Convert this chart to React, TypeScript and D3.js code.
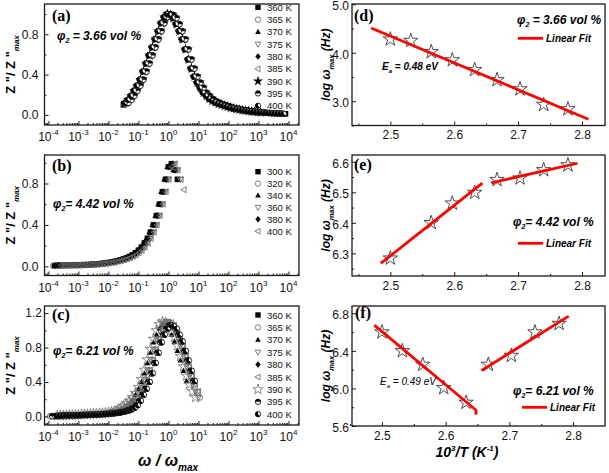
import React, { useEffect, useRef } from "react";
import * as d3 from "d3";

const W = 609;
const H = 473;

// ---- left panels: Z''/Z''max against log10(w/wmax), sampled every 0.1 decade ----
const tempsA = ["360 K", "365 K", "370 K", "375 K", "380 K", "385 K", "390 K", "395 K", "400 K"];
const symbolsA = ["square", "circle", "triUp", "triDown", "diamond", "triLeft", "starFill", "halfTop", "halfLeft"];
const aStart = -1.5;
const aZ = [0.10, 0.12, 0.15, 0.19, 0.24, 0.29, 0.35, 0.43, 0.51, 0.59, 0.67, 0.75, 0.83, 0.91, 0.97,
  1.00, 0.99, 0.96, 0.90, 0.83, 0.75, 0.65, 0.55, 0.46, 0.38, 0.32, 0.27, 0.22, 0.19, 0.16, 0.14,
  0.125, 0.11, 0.10, 0.09, 0.08, 0.07, 0.065, 0.058, 0.052, 0.047, 0.042, 0.038, 0.034, 0.031,
  0.028, 0.025, 0.022, 0.02, 0.018, 0.016, 0.015, 0.013, 0.012, 0.011];
const aShift = [0, 0.06, -0.05, 0.09, -0.08, 0.04, -0.03, 0.07, -0.06];
const aFrom = [-1.5, -1.4, -1.5, -1.4, -1.5, -1.5, -1.5, -1.4, -1.5];
const aTo = [3.9, 3.8, 3.6, 3.3, 3.5, 2.9, 3.1, 3.8, 3.9];

const tempsB = ["300 K", "320 K", "340 K", "360 K", "380 K", "400 K"];
const symbolsB = ["square", "circle", "triUp", "triDown", "diamond", "triLeft"];
const bStart = -3.9;
const bZ = [0.005, 0.008, 0.009, 0.01, 0.01, 0.011, 0.011, 0.012, 0.012, 0.013, 0.014, 0.015, 0.016,
  0.018, 0.02, 0.022, 0.025, 0.028, 0.032, 0.036, 0.041, 0.047, 0.054, 0.062, 0.071, 0.082, 0.095,
  0.11, 0.13, 0.155, 0.185, 0.225, 0.27, 0.33, 0.40, 0.49, 0.60, 0.72, 0.84,
  0.96, 0.99, 0.93, 0.84, 0.74, 0.64];
const bShift = [0, 0.06, -0.04, 0.1, 0.02, 0.12];
const bFrom = [-3.8, -3.9, -3.8, -3.7, -3.8, -3.6];
const bTo = [0.3, 0.3, 0.2, 0.45, 0.3, 0.55];

const tempsC = ["360 K", "365 K", "370 K", "375 K", "380 K", "385 K", "390 K", "395 K", "400 K"];
const symbolsC = ["square", "circle", "triUp", "triDown", "diamond", "triLeft", "starOpen", "halfTop", "halfLeft"];
const cStart = -4.0;
const cFilled = [0.0, 0.002, 0.004, 0.006, 0.008, 0.01, 0.011, 0.012, 0.013, 0.014, 0.015, 0.016, 0.017,
  0.018, 0.019, 0.02, 0.022, 0.024, 0.026, 0.028, 0.031, 0.034, 0.038, 0.043, 0.05, 0.058, 0.068,
  0.08, 0.1, 0.13, 0.18, 0.25, 0.32, 0.40, 0.50, 0.62, 0.74, 0.86, 0.95, 1.02,
  1.06, 1.05, 1.02, 0.95, 0.87, 0.76, 0.65, 0.53, 0.41];
const cOpen = [0.0, 0.003, 0.005, 0.007, 0.009, 0.011, 0.012, 0.013, 0.014, 0.015, 0.016, 0.018, 0.02,
  0.022, 0.024, 0.026, 0.028, 0.03, 0.033, 0.036, 0.04, 0.045, 0.05, 0.06, 0.075, 0.095, 0.12,
  0.15, 0.18, 0.22, 0.27, 0.34, 0.43, 0.54, 0.66, 0.78, 0.90, 1.00, 1.07, 1.10,
  1.09, 1.06, 1.00, 0.92, 0.82, 0.70, 0.58, 0.47, 0.37, 0.29, 0.22];
const cUsesOpen = [false, true, false, true, false, true, true, false, false];
const cShift = [0.05, 0.05, -0.2, 0.0, 0.0, 0.1, -0.1, 0.03, 0.08];
const cFrom = [-3.9, -4.0, -3.8, -3.9, -3.9, -3.8, -3.7, -3.9, -3.8];
const cTo = [0.9, 1.05, 0.6, 1.0, 0.8, 1.0, 0.9, 0.85, 0.9];

const decades = [-4, -3, -2, -1, 0, 1, 2, 3, 4];

// ---- right panels: log wmax against 1000/T ----
const dInvT = [2.5, 2.532, 2.564, 2.597, 2.632, 2.667, 2.703, 2.74, 2.778];
const dLogW = [4.28, 4.25, 4.02, 3.85, 3.65, 3.44, 3.25, 2.93, 2.84];
const dFitX = [2.47, 2.81];
const dFitY = [4.51, 2.63];

const eInvT = [2.5, 2.564, 2.597, 2.632, 2.667, 2.703, 2.74, 2.778];
const eLogW = [6.284, 6.40, 6.464, 6.499, 6.541, 6.546, 6.573, 6.589];
const eFit1X = [2.485, 2.644];
const eFit1Y = [6.267, 6.53];
const eFit2X = [2.658, 2.793];
const eFit2Y = [6.531, 6.595];

const fInvT = [2.5, 2.532, 2.564, 2.597, 2.632, 2.667, 2.703, 2.74, 2.778];
const fLogW = [6.60, 6.40, 6.255, 6.006, 5.85, 6.255, 6.35, 6.60, 6.69];
const fFit1X = [2.488, 2.6475, 2.6475];
const fFit1Y = [6.675, 5.77, 5.72];
const fFit2X = [2.656, 2.793];
const fFit2Y = [6.19, 6.77];

const SANS = "'Liberation Sans', Arial, sans-serif";
const SERIF = "'Liberation Serif', 'Times New Roman', serif";

type G = d3.Selection<SVGGElement, unknown, null, undefined>;

function marker(g: G, type: string, cx: number, cy: number, s: number) {
  const r = s / 2;
  const openStroke = "#6e6e6e";
  if (type === "square") {
    g.append("rect").attr("x", cx - r).attr("y", cy - r).attr("width", s).attr("height", s).attr("fill", "#000");
  } else if (type === "circle") {
    g.append("circle").attr("cx", cx).attr("cy", cy).attr("r", r).attr("fill", "none")
      .attr("stroke", openStroke).attr("stroke-width", 0.9);
  } else if (type === "triUp") {
    g.append("path").attr("d", `M${cx},${cy - r * 1.15}L${cx + r * 1.05},${cy + r * 0.75}L${cx - r * 1.05},${cy + r * 0.75}Z`)
      .attr("fill", "#000");
  } else if (type === "triDown") {
    g.append("path").attr("d", `M${cx},${cy + r * 1.15}L${cx + r * 1.05},${cy - r * 0.75}L${cx - r * 1.05},${cy - r * 0.75}Z`)
      .attr("fill", "none").attr("stroke", openStroke).attr("stroke-width", 0.9);
  } else if (type === "diamond") {
    g.append("path").attr("d", `M${cx},${cy - r * 1.2}L${cx + r},${cy}L${cx},${cy + r * 1.2}L${cx - r},${cy}Z`)
      .attr("fill", "#000");
  } else if (type === "triLeft") {
    g.append("path").attr("d", `M${cx - r * 1.15},${cy}L${cx + r * 0.75},${cy - r * 1.05}L${cx + r * 0.75},${cy + r * 1.05}Z`)
      .attr("fill", "none").attr("stroke", openStroke).attr("stroke-width", 0.9);
  } else if (type === "starFill" || type === "starOpen") {
    const p = g.append("path").attr("d", d3.symbol(d3.symbolStar, s * s * 1.1)()!)
      .attr("transform", `translate(${cx},${cy})`);
    if (type === "starFill") p.attr("fill", "#000");
    else p.attr("fill", "none").attr("stroke", openStroke).attr("stroke-width", 0.8);
  } else if (type === "halfTop") {
    g.append("circle").attr("cx", cx).attr("cy", cy).attr("r", r).attr("fill", "#fff").attr("stroke", "#000").attr("stroke-width", 0.8);
    g.append("path").attr("d", `M${cx - r},${cy}A${r},${r} 0 0 1 ${cx + r},${cy}Z`).attr("fill", "#000");
  } else if (type === "halfLeft") {
    g.append("circle").attr("cx", cx).attr("cy", cy).attr("r", r).attr("fill", "#fff").attr("stroke", "#000").attr("stroke-width", 0.8);
    g.append("path").attr("d", `M${cx},${cy - r}A${r},${r} 0 1 0 ${cx + r * 0.7},${cy + r * 0.7}L${cx},${cy}Z`).attr("fill", "#000");
  }
}

function frame(g: G, x0: number, x1: number, y0: number, y1: number) {
  g.append("rect").attr("x", x0).attr("y", y0).attr("width", x1 - x0).attr("height", y1 - y0)
    .attr("fill", "none").attr("stroke", "#1a1a1a").attr("stroke-width", 1.3);
}

function styleAxis(sel: G) {
  sel.select(".domain").remove();
  sel.selectAll("line").attr("stroke", "#1a1a1a").attr("stroke-width", 1);
  sel.selectAll("text").attr("font-family", SANS).attr("font-size", 12).attr("fill", "#111");
}

const App = () => {
  const ref = useRef<SVGSVGElement>(null);

  useEffect(() => {
    const svg = d3.select(ref.current);
    svg.selectAll("*").remove();
    const root = svg.append("g") as unknown as G;

    // ---------- left column ----------
    const xL = d3.scaleLog().domain([Math.pow(10, -4.13), Math.pow(10, 4.35)]).range([44.5, 299]);
    const minorL: number[] = [];
    decades.forEach((e) => d3.range(2, 10).forEach((m) => {
      const v = m * Math.pow(10, e);
      if (v > xL.domain()[0] && v < xL.domain()[1]) minorL.push(v);
    }));
    const preMinor = d3.range(8, 10).map((m) => m * 1e-5).filter((v) => v > xL.domain()[0]);

    const leftPanels = [
      {
        top: 4, bottom: 125, yDom: [-0.1, 1.1], yTicks: [0, 0.4, 0.8], yMinor: [0.2, 0.6, 1.0], pad: 6,
        label: "(a)", labelY: 21, phi: "3.66", phiSep: " = ", phiY: 40, phiX: 57,
        temps: tempsA, symbols: symbolsA, legY: 7.3, legStep: 12.3,
        series: tempsA.map((_, i) => ({ curve: aZ, start: aStart, shift: aShift[i], from: aFrom[i], to: aTo[i] })),
      },
      {
        top: 155, bottom: 275.5, yDom: [-0.088, 1.075], yTicks: [0, 0.4, 0.8], yMinor: [0.2, 0.6, 1.0], pad: 6,
        label: "(b)", labelY: 171, phi: "4.42", phiSep: "= ", phiY: 208, phiX: 53,
        temps: tempsB, symbols: symbolsB, legY: 171.7, legStep: 11.9,
        series: tempsB.map((_, i) => ({ curve: bZ, start: bStart, shift: bShift[i], from: bFrom[i], to: bTo[i] })),
      },
      {
        top: 306, bottom: 425, yDom: [-0.1, 1.283], yTicks: [0, 0.4, 0.8, 1.2], yMinor: [0.2, 0.6, 1.0], pad: 2.5,
        label: "(c)", labelY: 320, phi: "6.21", phiSep: "= ", phiY: 355, phiX: 53,
        temps: tempsC, symbols: symbolsC, legY: 315, legStep: 12.4,
        series: tempsC.map((_, i) => ({ curve: cUsesOpen[i] ? cOpen : cFilled, start: cStart, shift: cShift[i], from: cFrom[i], to: cTo[i] })),
      },
    ];

    leftPanels.forEach((p) => {
      const y = d3.scaleLinear().domain(p.yDom).range([p.bottom, p.top]);
      const g = root.append("g") as unknown as G;

      // data
      const dg = g.append("g") as unknown as G;
      p.series.forEach((s, i) => {
        s.curve.forEach((z, k) => {
          const lw = s.start + k * 0.1 + s.shift;
          if (lw < s.from - 1e-6 || lw > s.to + 1e-6) return;
          marker(dg, p.symbols[i], xL(Math.pow(10, lw)), y(z), 5.6);
        });
      });

      frame(g, 44.5, 299, p.top, p.bottom);

      g.append("g").attr("transform", `translate(0,${p.bottom})`)
        .call(d3.axisBottom(xL).tickValues(decades.map((e) => Math.pow(10, e))).tickSize(-4).tickFormat(() => ""))
        .call(styleAxis as any);
      g.append("g").attr("transform", `translate(0,${p.bottom})`)
        .call(d3.axisBottom(xL).tickValues([...preMinor, ...minorL]).tickSize(-2).tickFormat(() => ""))
        .call(styleAxis as any);
      decades.forEach((e) => {
        const t = g.append("text").attr("x", xL(Math.pow(10, e))).attr("y", p.bottom + 16)
          .attr("text-anchor", "middle").attr("font-family", SANS).attr("font-size", 12).attr("fill", "#111");
        t.append("tspan").text("10");
        t.append("tspan").attr("dy", -6).attr("font-size", 8).text(String(e));
      });

      g.append("g").attr("transform", "translate(44.5,0)")
        .call(d3.axisLeft(y).tickValues(p.yTicks).tickSize(-4).tickPadding(p.pad).tickFormat(d3.format(".1f")))
        .call(styleAxis as any);
      g.append("g").attr("transform", "translate(44.5,0)")
        .call(d3.axisLeft(y).tickValues(p.yMinor).tickSize(-2).tickFormat(() => ""))
        .call(styleAxis as any);

      g.append("text").attr("x", 52).attr("y", p.labelY).attr("font-family", SERIF).attr("font-weight", "bold")
        .attr("font-size", 16).text(p.label);

      const ph = g.append("text").attr("x", p.phiX).attr("y", p.phiY).attr("font-family", SANS)
        .attr("font-weight", "bold").attr("font-style", "italic").attr("font-size", 12);
      ph.append("tspan").text("\u03c6");
      ph.append("tspan").attr("dy", 3).attr("font-size", 7).text("2");
      ph.append("tspan").attr("dy", -3).text(`${p.phiSep}${p.phi} vol %`);

      p.temps.forEach((t, i) => {
        const ly = p.legY + i * p.legStep;
        marker(g, p.symbols[i], 258, ly, 5.4);
        g.append("text").attr("x", 267).attr("y", ly + 3.5).attr("font-family", SANS).attr("font-size", 9.5)
          .attr("fill", "#111").text(t);
      });

      const cy = (p.top + p.bottom) / 2;
      const yt = g.append("text").attr("transform", `translate(15,${cy}) rotate(-90)`).attr("text-anchor", "middle")
        .attr("font-family", SANS).attr("font-weight", "bold").attr("font-size", 13);
      yt.append("tspan").text("Z \"/ Z \"");
      yt.append("tspan").attr("dy", 4).attr("font-size", 8).attr("font-style", "italic").text("max");
    });

    const xt = root.append("text").attr("x", 168).attr("y", 466).attr("text-anchor", "middle")
      .attr("font-family", SANS).attr("font-weight", "bold").attr("font-style", "italic").attr("font-size", 16);
    xt.append("tspan").text("\u03c9 / \u03c9");
    xt.append("tspan").attr("dy", 5).attr("font-size", 10).text("max");

    // ---------- right column ----------
    const rightPanels = [
      {
        top: 4, bottom: 125.5, xDom: [2.44, 2.836], yDom: [2.5, 5.006], yTicks: [3.0, 4.0, 5.0], yMinor: [2.5, 3.5, 4.5],
        label: "(d)", labelY: 21, labelX: 354, invT: dInvT, logW: dLogW, fits: [[dFitX, dFitY]],
        phi: "3.66", phiSep: " = ", phiX: 517, phiY: 24, lineX: 518, lineY: 38.3, ea: "0.48", eaX: 382, eaY: 70, eaBold: true,
      },
      {
        top: 155, bottom: 276, xDom: [2.44, 2.836], yDom: [6.226, 6.622], yTicks: [6.3, 6.4, 6.5, 6.6], yMinor: [6.25, 6.35, 6.45, 6.55],
        label: "(e)", labelY: 170, labelX: 354, invT: eInvT, logW: eLogW, fits: [[eFit1X, eFit1Y], [eFit2X, eFit2Y]],
        phi: "4.42", phiSep: "= ", phiX: 513, phiY: 226, lineX: 518, lineY: 243.3, ea: "", eaX: 0, eaY: 0, eaBold: true,
      },
      {
        top: 306, bottom: 426, xDom: [2.453, 2.85], yDom: [5.6, 6.878], yTicks: [5.6, 6.0, 6.4, 6.8], yMinor: [5.8, 6.2, 6.6],
        label: "(f)", labelY: 318, labelX: 355, invT: fInvT, logW: fLogW, fits: [[fFit1X, fFit1Y], [fFit2X, fFit2Y]],
        phi: "6.21", phiSep: "= ", phiX: 513, phiY: 395, lineX: 522, lineY: 407.3, ea: "0.49", eaX: 380, eaY: 385, eaBold: false,
      },
    ];

    rightPanels.forEach((p) => {
      const x = d3.scaleLinear().domain(p.xDom).range([352, 605]);
      const y = d3.scaleLinear().domain(p.yDom).range([p.bottom, p.top]);
      const g = root.append("g") as unknown as G;

      frame(g, 352, 605, p.top, p.bottom);

      const star = d3.symbol(d3.symbolStar, 64)()!;
      g.selectAll(".star").data(p.invT).enter().append("path").attr("class", "star")
        .attr("d", star).attr("transform", (d, i) => `translate(${x(d)},${y(p.logW[i])})`)
        .attr("fill", "none").attr("stroke", "#3a3a3a").attr("stroke-width", 0.9);

      p.fits.forEach(([fx, fy]) => {
        const pts = fx.map((v, i) => [x(v), y(fy[i])] as [number, number]);
        g.append("path").attr("d", d3.line()(pts)!).attr("fill", "none").attr("stroke", "#ff0000")
          .attr("stroke-width", 2.8);
      });

      g.append("g").attr("transform", `translate(0,${p.bottom})`)
        .call(d3.axisBottom(x).tickValues([2.5, 2.6, 2.7, 2.8]).tickSize(-4).tickPadding(5).tickFormat(d3.format(".1f")))
        .call(styleAxis as any);
      g.append("g").attr("transform", `translate(0,${p.bottom})`)
        .call(d3.axisBottom(x).tickValues([2.45, 2.55, 2.65, 2.75]).tickSize(-2).tickFormat(() => ""))
        .call(styleAxis as any);
      g.append("g").attr("transform", "translate(352,0)")
        .call(d3.axisLeft(y).tickValues(p.yTicks).tickSize(-4).tickPadding(3).tickFormat(d3.format(".1f")))
        .call(styleAxis as any)
        .call((a) => a.selectAll("text").attr("dy", "0.45em"));
      g.append("g").attr("transform", "translate(352,0)")
        .call(d3.axisLeft(y).tickValues(p.yMinor).tickSize(-2).tickFormat(() => ""))
        .call(styleAxis as any);

      g.append("text").attr("x", p.labelX).attr("y", p.labelY).attr("font-family", SERIF).attr("font-weight", "bold")
        .attr("font-size", 16).text(p.label);

      const ph = g.append("text").attr("x", p.phiX).attr("y", p.phiY).attr("font-family", SANS)
        .attr("font-weight", "bold").attr("font-style", "italic").attr("font-size", 12);
      ph.append("tspan").text("\u03c6");
      ph.append("tspan").attr("dy", 3).attr("font-size", 7).text("2");
      ph.append("tspan").attr("dy", -3).text(`${p.phiSep}${p.phi} vol %`);

      g.append("line").attr("x1", p.lineX).attr("x2", p.lineX + 25).attr("y1", p.lineY).attr("y2", p.lineY)
        .attr("stroke", "#ff0000").attr("stroke-width", 2.8);
      g.append("text").attr("x", p.lineX + 28).attr("y", p.lineY + 3.7).attr("font-family", SANS)
        .attr("font-weight", "bold").attr("font-style", "italic").attr("font-size", 10).text("Linear Fit");

      if (p.ea) {
        const ea = g.append("text").attr("x", p.eaX).attr("y", p.eaY).attr("font-family", SANS)
          .attr("font-weight", p.eaBold ? "bold" : "normal").attr("font-style", "italic").attr("font-size", 10);
        ea.append("tspan").text("E");
        ea.append("tspan").attr("dy", 3).attr("font-size", 6).text("a");
        ea.append("tspan").attr("dy", -3).text(` = ${p.ea} eV`);
      }

      const cy = (p.top + p.bottom) / 2;
      const yt = g.append("text").attr("transform", `translate(330,${cy}) rotate(-90)`).attr("text-anchor", "middle")
        .attr("font-family", SANS).attr("font-weight", "bold").attr("font-style", "italic").attr("font-size", 12);
      yt.append("tspan").text("log \u03c9");
      yt.append("tspan").attr("dy", 4).attr("font-size", 7.5).text("max");
      yt.append("tspan").attr("dy", -4).text(" (Hz)");
    });

    const xt2 = root.append("text").attr("x", 467).attr("y", 457).attr("text-anchor", "middle")
      .attr("font-family", SANS).attr("font-weight", "bold").attr("font-style", "italic").attr("font-size", 14);
    xt2.append("tspan").text("10");
    xt2.append("tspan").attr("dy", -6).attr("font-size", 8).text("3");
    xt2.append("tspan").attr("dy", 6).text("/T (K");
    xt2.append("tspan").attr("dy", -6).attr("font-size", 8).text("-1");
    xt2.append("tspan").attr("dy", 6).text(")");
  }, []);

  return (
    <svg ref={ref} width={W} height={H} style={{ position: "absolute", left: 0, top: 0, background: "#fff" }} />
  );
};

export default App;
